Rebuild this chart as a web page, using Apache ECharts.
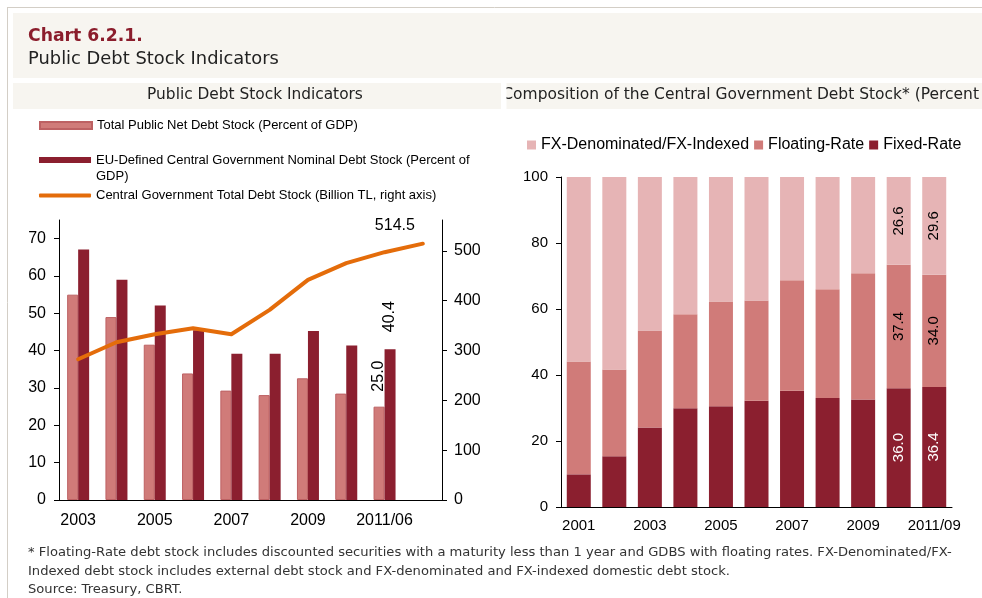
<!DOCTYPE html>
<html><head><meta charset="utf-8">
<script src="https://cdn.jsdelivr.net/npm/echarts@6/dist/echarts.min.js"></script>
<style>html,body{margin:0;padding:0;background:#fff;}#c{width:982px;height:598px;}</style>
</head><body><div id="c"></div>
<script>
// ---- data ----
const leftCategories = ['2003','2004','2005','2006','2007','2008','2009','2010','2011/06','2011/09'];
const netDebtGDP = [55.0, 49.0, 41.6, 33.9, 29.3, 28.1, 32.6, 28.5, 25.0, null];
const euDebtGDP = [67.1, 59.0, 52.1, 45.5, 39.2, 39.2, 45.3, 41.4, 40.4, null];
const totalDebtTL = [282.5, 316.6, 332.7, 344.8, 332.7, 381.5, 441.8, 475.3, 497.4, 514.5];
const leftTicks = [0, 10, 20, 30, 40, 50, 60, 70];
const rightTicks = [0, 100, 200, 300, 400, 500];

const rightCategories = ['2001','2002','2003','2004','2005','2006','2007','2008','2009','2010','2011/09'];
const fixedRate = [9.9, 15.4, 24.1, 29.9, 30.5, 32.2, 35.2, 33.0, 32.6, 36.0, 36.4];
const floatingRate = [34.2, 26.3, 29.4, 28.5, 31.8, 30.4, 33.5, 33.0, 38.2, 37.4, 34.0];
const fxIndexed = [55.9, 58.3, 46.5, 41.6, 37.7, 37.4, 31.3, 34.0, 29.2, 26.6, 29.6];

const nameNet = 'Total Public Net Debt Stock (Percent of GDP)';
const nameEU = 'EU-Defined Central Government Nominal Debt Stock (Percent of GDP)';
const nameTL = 'Central Government Total Debt Stock (Billion TL, right axis)';
const nameFX = 'FX-Denominated/FX-Indexed';
const nameFloat = 'Floating-Rate';
const nameFixed = 'Fixed-Rate';

const footLines = [
 '* Floating-Rate debt stock includes discounted securities with a maturity less than 1 year and GDBS with floating rates. FX-Denominated/FX-',
 'Indexed debt stock includes external debt stock and FX-denominated and FX-indexed domestic debt stock.',
 'Source: Treasury, CBRT.'
];
const rightTitle = 'Composition of the Central Government Debt Stock* (Percent';

// ---- helpers ----
const AR = '"Liberation Sans", Arial, sans-serif';
const CG = '"DejaVu Sans", sans-serif';
const mctx = document.createElement('canvas').getContext('2d');
function fit(text, weight, family, target){
  mctx.font = weight + ' 100px ' + family;
  return 100 * target / mctx.measureText(text).width;
}
const fsChart = fit('Chart 6.2.1.', 'bold', CG, 115);
const fsSub = fit('Public Debt Stock Indicators', 'normal', CG, 251);
const fsPanel = fit('Public Debt Stock Indicators', 'normal', CG, 216);
const fsRight = fit(rightTitle, 'normal', CG, 477);
const fsFoot = fit(footLines[0], 'normal', CG, 925);

const C_LIGHT = '#d07b79', C_DARK = '#8b1f2f', C_ORANGE = '#e46c0a', C_PINK = '#e6b4b5';

function withLabels(arr, idxs){
  return arr.map((v,i)=> idxs.indexOf(i) >= 0 ? {value:v, label:{show:true}} : v);
}
const rot = {show:false, rotate:90, fontSize:16, fontFamily:AR, color:'#000', formatter:p=>Number(p.value).toFixed(1)};

const chart = echarts.init(document.getElementById('c'), null, {renderer:'canvas'});
const option = {
  animation:false,
  backgroundColor:'#fff',
  graphic:[
    {type:'line', shape:{x1:7, y1:7.5, x2:982, y2:7.5}, style:{stroke:'#d3cec6', lineWidth:1}, z:-10},
    {type:'line', shape:{x1:7.5, y1:7, x2:7.5, y2:598}, style:{stroke:'#d3cec6', lineWidth:1}, z:-10},
    {type:'rect', shape:{x:13, y:13, width:969, height:65}, style:{fill:'#f7f5f0'}, z:-10},
    {type:'rect', shape:{x:13, y:83, width:488, height:26}, style:{fill:'#f7f5f0'}, z:-10},
    {type:'rect', shape:{x:506, y:83, width:476, height:26}, style:{fill:'#f7f5f0'}, z:-10},
    {type:'text', x:28, y:37, style:{text:'Chart 6.2.1.', font:'bold '+fsChart+'px '+CG, fill:'#8b1d2c', textVerticalAlign:'middle'}},
    {type:'text', x:28, y:59, style:{text:'Public Debt Stock Indicators', font:fsSub+'px '+CG, fill:'#222', textVerticalAlign:'middle'}},
    {type:'text', x:255, y:95, style:{text:'Public Debt Stock Indicators', font:fsPanel+'px '+CG, fill:'#222', textAlign:'center', textVerticalAlign:'middle'}},
    {type:'text', x:979, y:95, z:1, style:{text:rightTitle, font:fsRight+'px '+CG, fill:'#222', textAlign:'right', textVerticalAlign:'middle'}},
    {type:'rect', z:2, shape:{x:490, y:80, width:16.5, height:32}, style:{fill:'#fff'}},
    {type:'rect', z:3, shape:{x:490, y:83, width:11, height:26}, style:{fill:'#f7f5f0'}},
    {type:'text', x:28, y:553, style:{text:footLines[0], font:fsFoot+'px '+CG, fill:'#333', textVerticalAlign:'middle'}},
    {type:'text', x:28, y:572, style:{text:footLines[1], font:fsFoot+'px '+CG, fill:'#333', textVerticalAlign:'middle'}},
    {type:'text', x:28, y:590, style:{text:footLines[2], font:fsFoot+'px '+CG, fill:'#333', textVerticalAlign:'middle'}}
  ],
  legend:[
    {data:[{name:nameNet, icon:'rect'}], orient:'vertical', left:39, top:119, padding:0, itemWidth:52, itemHeight:7, itemGap:0,
     textStyle:{fontSize:13, fontFamily:AR, color:'#000'}},
    {data:[{name:nameEU, icon:'rect'}], orient:'vertical', left:39, top:136, padding:0, itemWidth:52, itemHeight:6, itemGap:0,
     formatter:n=>' \n' + n.replace('of GDP)','of\nGDP)'),
     textStyle:{fontSize:13, fontFamily:AR, color:'#000', lineHeight:16}},
    {data:[{name:nameTL, icon:'roundRect'}], orient:'vertical', left:39, top:189, padding:0, itemWidth:52, itemHeight:4, itemGap:0,
     textStyle:{fontSize:13, fontFamily:AR, color:'#000'}},
    {data:[{name:nameFX, icon:'rect'},{name:nameFloat, icon:'rect'},{name:nameFixed, icon:'rect'}], orient:'horizontal', left:527, top:137, padding:0,
     itemWidth:9, itemHeight:9, itemGap:5, textStyle:{fontSize:16, fontFamily:AR, color:'#000'}}
  ],
  grid:[
    {left:59, top:220, width:383, height:280},
    {left:561, top:177, width:391, height:330}
  ],
  xAxis:[
    {type:'category', gridIndex:0, data:leftCategories, boundaryGap:true,
     axisLine:{lineStyle:{color:'#000', width:1}}, axisTick:{length:5, interval:0, lineStyle:{color:'#000'}},
     axisLabel:{interval:1, fontSize:16, fontFamily:AR, color:'#000', margin:13}},
    {type:'category', gridIndex:1, data:rightCategories, boundaryGap:true,
     axisLine:{lineStyle:{color:'#000', width:1}}, axisTick:{length:5, interval:0, lineStyle:{color:'#000'}},
     axisLabel:{interval:1, fontSize:15, fontFamily:AR, color:'#000', margin:11}}
  ],
  yAxis:[
    {type:'value', gridIndex:0, min:0, max:75, position:'left',
     axisLine:{show:true, lineStyle:{color:'#000'}}, axisTick:{show:true, length:5, customValues:leftTicks, lineStyle:{color:'#000'}},
     axisLabel:{customValues:leftTicks, fontSize:16, fontFamily:AR, color:'#000', margin:13}, splitLine:{show:false}},
    {type:'value', gridIndex:0, min:0, max:562, position:'right',
     axisLine:{show:true, lineStyle:{color:'#000'}}, axisTick:{show:true, length:5, customValues:rightTicks, lineStyle:{color:'#000'}},
     axisLabel:{customValues:rightTicks, fontSize:16, fontFamily:AR, color:'#000', margin:12}, splitLine:{show:false}},
    {type:'value', gridIndex:1, min:0, max:100, interval:20,
     axisLine:{show:true, lineStyle:{color:'#000'}}, axisTick:{show:true, length:5, lineStyle:{color:'#000'}},
     axisLabel:{fontSize:15, fontFamily:AR, color:'#000', margin:13}, splitLine:{show:false}}
  ],
  series:[
    {name:nameNet, type:'bar', xAxisIndex:0, yAxisIndex:0, barWidth:11, barGap:'0%',
     data:withLabels(netDebtGDP,[8]), itemStyle:{color:C_LIGHT, borderColor:'#bd6163', borderWidth:1},
     label:Object.assign({}, rot, {position:'top', align:'left', verticalAlign:'middle', distance:15})},
    {name:nameEU, type:'bar', xAxisIndex:0, yAxisIndex:0, barWidth:11, barGap:'0%',
     data:withLabels(euDebtGDP,[8]), itemStyle:{color:C_DARK},
     label:Object.assign({}, rot, {position:'top', align:'left', verticalAlign:'middle', distance:17})},
    {name:nameTL, type:'line', xAxisIndex:0, yAxisIndex:1, smooth:false, symbol:'circle', symbolSize:1, showSymbol:true,
     data:withLabels(totalDebtTL,[9]), lineStyle:{color:C_ORANGE, width:4, cap:'round', join:'round'}, itemStyle:{color:C_ORANGE},
     label:{show:false, position:'top', offset:[-28,-5], fontSize:16, fontFamily:AR, color:'#000', formatter:p=>Number(p.value).toFixed(1)}, z:5},
    {name:nameFixed, type:'bar', xAxisIndex:1, yAxisIndex:2, stack:'c', barWidth:24,
     data:withLabels(fixedRate,[9,10]), itemStyle:{color:C_DARK},
     label:Object.assign({}, rot, {position:'inside', fontSize:15, color:'#fff'})},
    {name:nameFloat, type:'bar', xAxisIndex:1, yAxisIndex:2, stack:'c', barWidth:24,
     data:withLabels(floatingRate,[9,10]), itemStyle:{color:C_LIGHT},
     label:Object.assign({}, rot, {position:'inside', fontSize:15, color:'#000'})},
    {name:nameFX, type:'bar', xAxisIndex:1, yAxisIndex:2, stack:'c', barWidth:24,
     data:withLabels(fxIndexed,[9,10]), itemStyle:{color:C_PINK},
     label:Object.assign({}, rot, {position:'inside', fontSize:15, color:'#000'})}
  ]
};
chart.setOption(option);
</script></body></html>
